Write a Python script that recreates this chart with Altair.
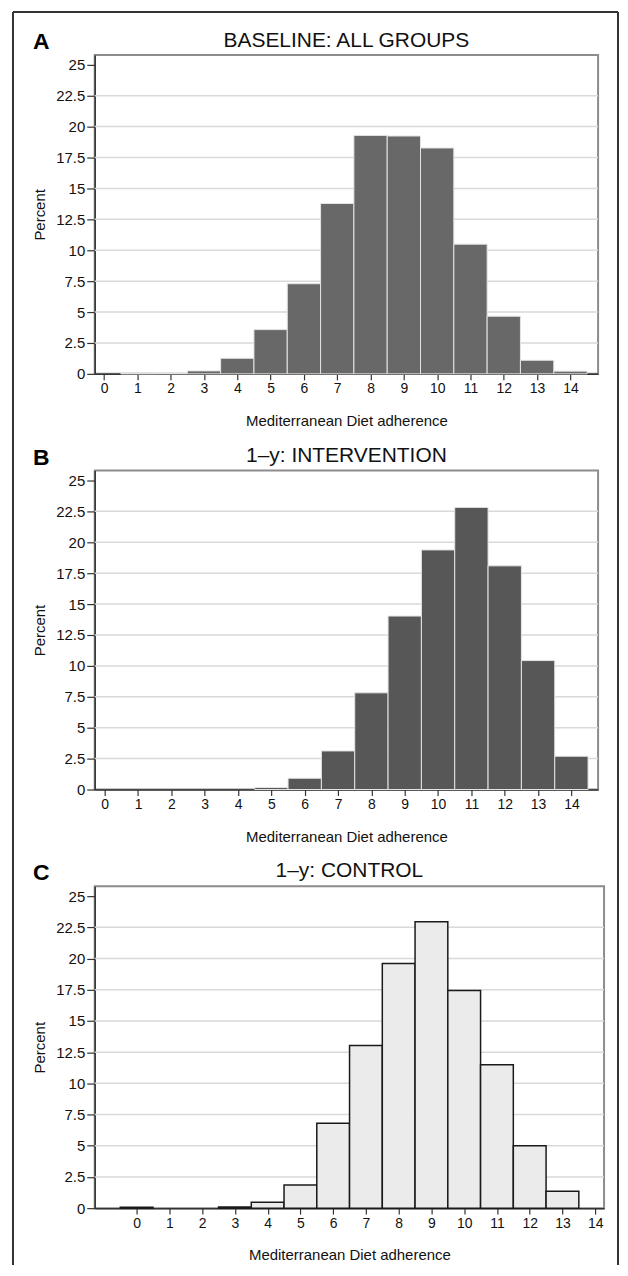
import altair as alt
import pandas as pd

# ---- data ----
scores = list(range(15))
baseline_pct = [0.0, 0.02, 0.03, 0.24, 1.26, 3.58, 7.29, 13.78, 19.29, 19.24, 18.27, 10.49, 4.66, 1.10, 0.22]
intervention_pct = [0.0, 0.0, 0.0, 0.0, 0.0, 0.16, 0.91, 3.12, 7.82, 14.03, 19.38, 22.82, 18.09, 10.43, 2.69]
control_pct = [0.08, 0.0, 0.0, 0.1, 0.48, 1.86, 6.80, 13.04, 19.61, 22.95, 17.45, 11.50, 4.99, 1.35, 0.0]

y_ticks = [0, 2.5, 5, 7.5, 10, 12.5, 15, 17.5, 20, 22.5, 25]
grid_values = [2.5, 5, 7.5, 10, 12.5, 15, 17.5, 20, 22.5]
x_ticks = scores

panel_letters = ["A", "B", "C"]
panel_titles = ["BASELINE: ALL GROUPS", "1\u2013y: INTERVENTION", "1\u2013y: CONTROL"]
x_title = "Mediterranean Diet adherence"
y_title = "Percent"

FONT = "Liberation Sans"
TXT = "#111111"


def y_axis(H):
    return alt.Axis(
        values=y_ticks, labelExpr="toString(datum.value)", title=y_title, tickSize=8,
        labelPadding=2, labelOverlap=False, grid=False, labelFont=FONT, labelFontSize=15,
        labelColor=TXT, titleFont=FONT, titleFontSize=15, titleFontWeight="normal",
        titleColor=TXT, titleX=-50, titleY=H / 2, titleAngle=270, titleAlign="center",
        titleBaseline="alphabetic", domainColor="#333", domainWidth=1.5,
        tickColor="#333", tickWidth=1.2,
    )


def x_axis(W):
    return alt.Axis(
        values=x_ticks, format="d", title=x_title, tickSize=6, labelPadding=2,
        labelFlush=False, labelOverlap=False, grid=False, labelFont=FONT,
        labelFontSize=14, labelColor=TXT, titleFont=FONT, titleFontSize=15,
        titleFontWeight="normal", titleColor=TXT,
        titleX=W / 2, titleY=52, titleAlign="center", titleBaseline="alphabetic",
        domainColor="#333", domainWidth=1.5, tickColor="#333", tickWidth=1.2,
    )


def panel(letter, title, pct, fill, stroke, sw, xdom, W, H, title_dy, frame=False):
    df = pd.DataFrame({"score": scores, "pct": pct})
    yscale = alt.Scale(domain=[0, 25.8], nice=False, zero=True)
    xscale = alt.Scale(domain=xdom, nice=False, zero=False)

    grid = alt.Chart(pd.DataFrame({"g": grid_values})).mark_rule(
        color="#d9d9d9", strokeWidth=1.5
    ).encode(
        y=alt.Y("g:Q", scale=yscale, axis=y_axis(H)),
        x=alt.value(0),
        x2=alt.value(W),
    )

    bars = alt.Chart(df).transform_filter("datum.pct > 0").transform_calculate(
        lo="datum.score - 0.5", hi="datum.score + 0.5"
    ).mark_rect(fill=fill, stroke=stroke, strokeWidth=sw).encode(
        x=alt.X("lo:Q", scale=xscale, axis=x_axis(W)),
        x2="hi:Q",
        y=alt.Y("pct:Q", scale=yscale, axis=y_axis(H)),
        y2=alt.datum(0),
    )

    title_txt = alt.Chart(pd.DataFrame({"t": [title]})).mark_text(
        font=FONT, fontSize=21, align="center", baseline="alphabetic", color=TXT
    ).encode(x=alt.value(W / 2), y=alt.value(title_dy), text="t:N")

    letter_txt = alt.Chart(pd.DataFrame({"t": [letter]})).mark_text(
        font=FONT, fontSize=23, fontWeight="bold", align="left", baseline="alphabetic", color="#000"
    ).encode(x=alt.value(-62), y=alt.value(-6), text="t:N")

    layers = [grid, bars, title_txt, letter_txt]
    if frame:
        one = pd.DataFrame({"k": [0]})
        frame_l = alt.Chart(one).mark_rule(color="#333", strokeWidth=2).encode(
            x=alt.value(-82), y=alt.value(-43), y2=alt.value(1214)
        )
        frame_r = alt.Chart(one).mark_rule(color="#333", strokeWidth=2).encode(
            x=alt.value(525), y=alt.value(-43), y2=alt.value(1214)
        )
        frame_t = alt.Chart(one).mark_rule(color="#333", strokeWidth=2).encode(
            x=alt.value(-82), x2=alt.value(525), y=alt.value(-43)
        )
        layers += [frame_l, frame_r, frame_t]
    return alt.layer(*layers).properties(width=W, height=H)


pA = panel(panel_letters[0], panel_titles[0], baseline_pct, "#686868", "#e4e4e4", 1,
           [-0.28, 14.83], 505, 320, -8, frame=True)
pB = panel(panel_letters[1], panel_titles[1], intervention_pct, "#575757", "#e4e4e4", 1,
           [-0.3, 14.8], 505, 320, -9)
pC = panel(panel_letters[2], panel_titles[2], control_pct, "#ebebeb", "#1a1a1a", 1.5,
           [-1.28, 14.27], 511, 323, -9)

chart = alt.vconcat(pA, pB, pC, spacing=97, bounds="flush").properties(
    padding={"left": 3, "top": 0, "right": 0, "bottom": 0},
).configure_view(
    stroke="#8c8c8c", strokeWidth=2
)

chart.save("out.html", embed_options={"renderer": "svg", "actions": False})
